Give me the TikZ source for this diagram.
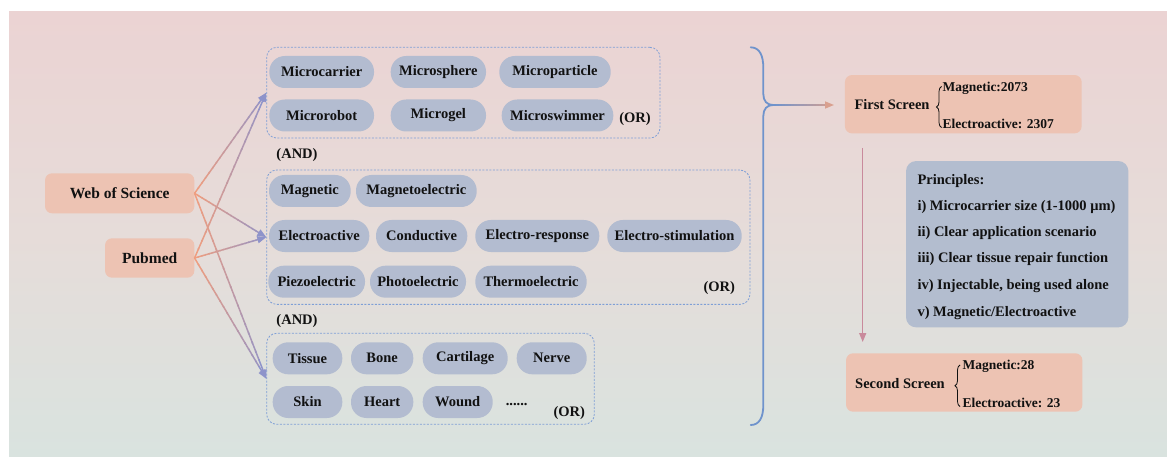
\documentclass[tikz,border=0pt]{standalone}
\usepackage{fontspec}
\setmainfont{Liberation Serif}
\usetikzlibrary{arrows.meta,calc,decorations.pathreplacing}
\definecolor{bgtop}{HTML}{EBD3D3}
\definecolor{bgmid}{HTML}{E6DCD9}
\definecolor{bgbot}{HTML}{D9E3DF}
\definecolor{pillc}{HTML}{B3BCD0}
\definecolor{grpc}{HTML}{7F9FD6}
\definecolor{salm}{HTML}{EDC3B3}
\definecolor{princ}{HTML}{B3BDCF}
\definecolor{lnA}{HTML}{EF9E80}
\definecolor{lnB}{HTML}{8E93CA}
\definecolor{brc}{HTML}{6F93CC}
\definecolor{brB}{HTML}{D9A08F}
\definecolor{vac}{HTML}{C98A9C}
\definecolor{txt}{HTML}{111111}
\newcommand\pill[5]{\node[pill, minimum width={#3-#2}] (#1) at ({(#2+#3)/2},#4) {#5};}
\newcommand\garrow[4]{%
  \foreach \i in {0,...,17}{%
    \pgfmathsetmacro\ta{\i*0.05}%
    \pgfmathsetmacro\tb{min(0.9,(\i+1.2)*0.05)}%
    \pgfmathtruncatemacro\pc{100-\i*5}%
    \draw[conn, color=#3!\pc!#4] ($(#1)!\ta!(#2)$) -- ($(#1)!\tb!(#2)$);}%
  \draw[conn, color=#4, -{Triangle[length=9pt,width=7pt]}] ($(#1)!0.895!(#2)$) -- (#2);}
\tikzset{
  pill/.style={fill=pillc, rounded corners=15.5pt, minimum height=32pt, inner sep=0pt,
    text=txt, font=\fontsize{14.5}{16}\selectfont\bfseries},
  grp/.style={draw=grpc, dash pattern=on 2pt off 1.5pt, line width=0.8pt, rounded corners=10pt, inner sep=0pt},
  srcbox/.style={fill=salm, rounded corners=7pt, inner sep=0pt},
  lbl/.style={font=\fontsize{14.5}{16}\selectfont\bfseries, inner sep=0pt, text=txt},
  sublbl/.style={font=\fontsize{13.5}{15}\selectfont\bfseries, inner sep=0pt, text=txt, anchor=west},
  conn/.style={line width=1.5pt},
}
\begin{document}
\begin{tikzpicture}[x=1pt,y=-1pt]
\useasboundingbox (0,0) rectangle (1167,457);
\shade[top color=bgtop, bottom color=bgbot, middle color=bgmid] (9,12) rectangle (1167,457);

% sources
\node[srcbox, minimum width=149.3pt, minimum height=40pt, lbl, font=\fontsize{15.5}{17}\selectfont\bfseries] (WoS) at (119.7,193.3) {Web of Science};
\node[srcbox, minimum width=89.3pt, minimum height=39.4pt, lbl, font=\fontsize{15.5}{17}\selectfont\bfseries] (Pub) at (149.7,258) {Pubmed};

% groups
\node[grp, minimum width=393.3pt, minimum height=90.7pt] (G1) at (463.3,92.7) {};
\node[grp, minimum width=483.3pt, minimum height=134.3pt] (G2) at (508.3,237.2) {};
\node[grp, minimum width=327.6pt, minimum height=91pt] (G3) at (430.5,378.8) {};

% group 1
\pill{a1}{269.3}{374}{72}{Microcarrier}
\pill{a2}{390.7}{486}{72}{Microsphere}
\pill{a3}{499.3}{610.7}{72}{Microparticle}
\pill{a4}{269.3}{374}{115.5}{Microrobot}
\pill{a5}{390.7}{486}{115.5}{Microgel}
\pill{a6}{501.7}{613.3}{115.5}{Microswimmer}
\node[lbl] (or1) at (635,119.3) {(OR)};
\node[lbl] (and1) at (297,155) {(AND)};

% group 2
\pill{b1}{269}{350.7}{191}{Magnetic}
\pill{b2}{356}{476.7}{191}{Magnetoelectric}
\pill{b3}{269}{369.3}{236}{Electroactive}
\pill{b4}{376}{467.3}{236}{Conductive}
\pill{b5}{475.3}{599.3}{236}{Electro-response}
\pill{b6}{607.3}{741.7}{236}{Electro-stimulation}
\pill{b7}{268.3}{365}{281.7}{Piezoelectric}
\pill{b8}{370}{466}{281.7}{Photoelectric}
\pill{b9}{475.3}{586.7}{281.7}{Thermoelectric}
\node[lbl] (or2) at (719.3,288.3) {(OR)};
\node[lbl] (and2) at (297,320.7) {(AND)};

% group 3
\pill{c1}{272.7}{342.3}{358.3}{Tissue}
\pill{c2}{351}{413.3}{358.3}{Bone}
\pill{c3}{422.7}{507.7}{358.3}{Cartilage}
\pill{c4}{516.7}{586.7}{358.3}{Nerve}
\pill{c5}{272.7}{342.3}{402}{Skin}
\pill{c6}{351}{413.3}{402}{Heart}
\pill{c7}{422.7}{492.7}{402}{Wound}
\node[lbl] (dots) at (516.7,405) {......};
\node[lbl] (or3) at (569.3,413) {(OR)};

% connectors
\garrow{WoS.east}{G1.west}{lnA}{lnB}
\garrow{WoS.east}{G2.west}{lnA}{lnB}
\garrow{WoS.east}{G3.west}{lnA}{lnB}
\garrow{Pub.east}{G1.west}{lnA}{lnB}
\garrow{Pub.east}{G2.west}{lnA}{lnB}
\garrow{Pub.east}{G3.west}{lnA}{lnB}

% big brace
\coordinate (brtop) at (750.7,47.3);
\coordinate (brtip) at (773,105);
\coordinate (brbot) at (750.7,425);
\draw[brc, line width=1.8pt, line cap=round]
  (brtop) .. controls (760,47.5) and (763.3,56) .. (763.3,68) -- (763.3,94)
  .. controls (763.3,101) and (767,105) .. (brtip)
  .. controls (767,105) and (763.3,109) .. (763.3,116) -- (763.3,405)
  .. controls (763.3,418) and (759,425) .. (brbot);

% first screen
\node[srcbox, minimum width=236.7pt, minimum height=58.3pt] (F1) at (963.3,104.2) {};
\coordinate (brend) at (834,105);
\garrow{brtip}{brend}{brc}{brB}
\node[lbl, anchor=west] (fs) at (854.3,105) {First Screen};
\draw[txt, line width=0.8pt, decorate, decoration={brace, amplitude=5pt, mirror}] (941.5,86.5) -- (941.5,127.5);
\node[sublbl] (fs1) at (942.3,88.3) {Magnetic:2073};
\node[sublbl] (fs2) at (942.3,123.5) {Electroactive: 2307};

% principles
\node[fill=princ, rounded corners=10pt, minimum width=222.3pt, minimum height=166.3pt, inner sep=0pt] (P) at (1017.2,244.2) {};
\node[lbl, anchor=west] (p0) at (917.3,180.7) {Principles:};
\node[lbl, anchor=west] (p1) at (917.3,207.3) {i) Microcarrier size (1-1000 μm)};
\node[lbl, anchor=west] (p2) at (917.3,233.3) {ii) Clear application scenario};
\node[lbl, anchor=west] (p3) at (917.3,259.3) {iii) Clear tissue repair function};
\node[lbl, anchor=west] (p4) at (917.3,286) {iv) Injectable, being used alone};
\node[lbl, anchor=west] (p5) at (917.3,312.7) {v) Magnetic/Electroactive};

% second screen
\node[srcbox, minimum width=236.3pt, minimum height=58.4pt] (S2) at (964.2,382.5) {};
\node[lbl, anchor=west] (ss) at (855,383.3) {Second Screen};
\draw[txt, line width=0.8pt, decorate, decoration={brace, amplitude=5pt, mirror}] (960,365) -- (960,406.5);
\node[sublbl] (ss1) at (962.3,366) {Magnetic:28};
\node[sublbl] (ss2) at (962.3,403.3) {Electroactive: 23};

% vertical arrow
\coordinate (va1) at (862.7,148);
\coordinate (va2) at (862.7,342);
\draw[vac, line width=1.5pt, -{Triangle[length=9pt,width=7pt]}] (va1) -- (va2);
\end{tikzpicture}
\end{document}
